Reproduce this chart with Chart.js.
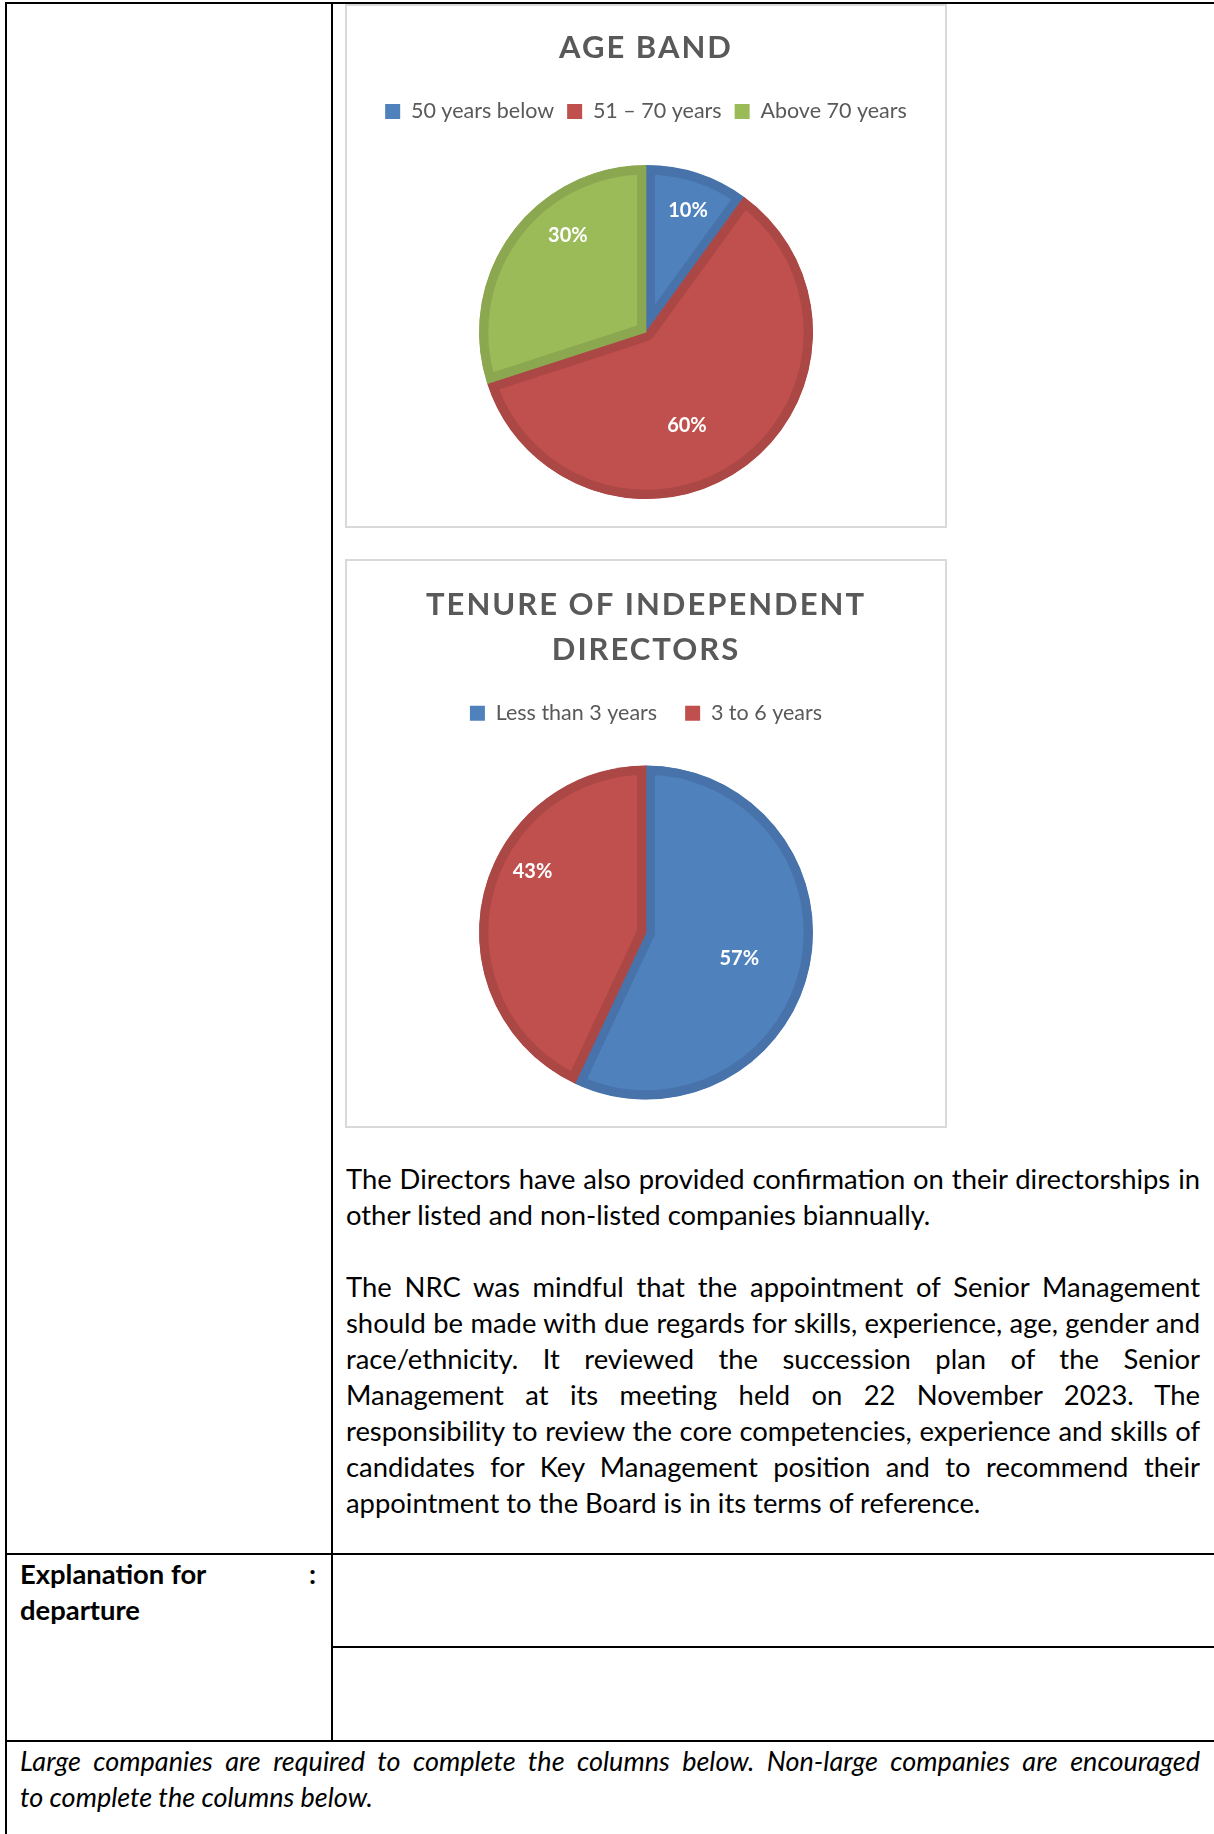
<!DOCTYPE html>
<html>
<head>
<meta charset="utf-8">
<script src="https://cdn.jsdelivr.net/npm/chart.js@4.4.0/dist/chart.umd.min.js"></script>
<style>
  html, body { margin: 0; padding: 0; background: #fff; }
  body { width: 1214px; height: 1834px; position: relative; overflow: hidden; font-family: Lato, sans-serif; color: #000; }
  .hl { position: absolute; height: 2px; background: #000; }
  .vl { position: absolute; width: 2px; background: #000; }
  .box { position: absolute; left: 345px; width: 602px; border: 2px solid #d9d9d9; box-sizing: border-box; background: #fff; overflow: hidden; }
  .box canvas { display: block; }
  .txt { position: absolute; font-size: 27.4px; line-height: 36px; }
  .txt span { display: block; }
  .txt .j { text-align: justify; text-align-last: justify; }
  .txt .e { height: 36px; }
</style>
</head>
<body>
  <!-- table lines -->
  <div class="hl" style="left:5px; top:2px; width:1209px;"></div>
  <div class="vl" style="left:5px; top:2px; height:1832px;"></div>
  <div class="vl" style="left:331px; top:2px; height:1740px;"></div>
  <div class="hl" style="left:5px; top:1553px; width:1209px;"></div>
  <div class="hl" style="left:331px; top:1646px; width:883px;"></div>
  <div class="hl" style="left:5px; top:1740px; width:1209px;"></div>

  <div class="box" style="top:4px; height:524px;"><canvas id="ageChart"></canvas></div>
  <div class="box" style="top:559px; height:569px;"><canvas id="tenureChart"></canvas></div>

  <div class="txt" style="left:346px; top:1160.5px; width:854px;">
    <span class="j">The Directors have also provided confirmation on their directorships in</span>
    <span>other listed and non-listed companies biannually.</span>
    <span class="e"></span>
    <span class="j">The NRC was mindful that the appointment of Senior Management</span>
    <span class="j">should be made with due regards for skills, experience, age, gender and</span>
    <span class="j">race/ethnicity. It reviewed the succession plan of the Senior</span>
    <span class="j">Management at its meeting held on 22 November 2023. The</span>
    <span class="j">responsibility to review the core competencies, experience and skills of</span>
    <span class="j">candidates for Key Management position and to recommend their</span>
    <span>appointment to the Board is in its terms of reference.</span>
  </div>

  <div class="txt" style="left:20px; top:1555.5px; font-weight:bold;">
    <span>Explanation for</span>
    <span>departure</span>
  </div>
  <div class="txt" style="left:309px; top:1555.5px; font-weight:bold;">:</div>

  <div class="txt" style="left:20px; top:1743px; width:1180px; font-style:italic; font-size:27px;">
    <span class="j">Large companies are required to complete the columns below. Non-large companies are encouraged</span>
    <span>to complete the columns below.</span>
  </div>

<script>
// chart data
const ageLabels = ['50 years below', '51 – 70 years', 'Above 70 years'];
const ageValues = [10, 60, 30];
const tenureLabels = ['Less than 3 years', '3 to 6 years'];
const tenureValues = [57, 43];

const fills = ['#4F81BD', '#C0504D', '#9BBB59'];
const edges = ['#4773AA', '#AB4744', '#8BA750'];
const grey = '#595959';

// white % labels inside the slices (spot = [share of slice angle, share of radius])
const sliceLabels = {
  id: 'sliceLabels',
  afterDatasetsDraw(chart, args, opts) {
    const ctx = chart.ctx;
    const meta = chart.getDatasetMeta(0);
    const vals = chart.data.datasets[0].data;
    ctx.save();
    ctx.font = 'bold 20px Lato';
    ctx.fillStyle = '#fff';
    ctx.textAlign = 'center';
    ctx.textBaseline = 'middle';
    meta.data.forEach((arc, i) => {
      const p = arc.getProps(['x', 'y', 'startAngle', 'endAngle', 'outerRadius'], true);
      const spot = opts.spots[i];
      const a = p.startAngle + (p.endAngle - p.startAngle) * spot[0];
      const r = p.outerRadius * spot[1];
      ctx.fillText(vals[i] + '%', p.x + Math.cos(a) * r, p.y + Math.sin(a) * r);
    });
    ctx.restore();
  }
};

// a little letter spacing on the title only, like the original
const spacedTitle = {
  id: 'spacedTitle',
  beforeDraw(chart) {
    const tb = chart.titleBlock;
    if (!tb || tb._spaced) return;
    const draw = tb.draw.bind(tb);
    tb.draw = function (area) {
      chart.ctx.save();
      chart.ctx.letterSpacing = '2px';
      draw(area);
      chart.ctx.restore();
    };
    tb._spaced = true;
  }
};

function legendItems(chart) {
  const items = Chart.overrides.doughnut.plugins.legend.labels.generateLabels(chart);
  items.forEach(it => { it.lineWidth = 0; it.strokeStyle = it.fillStyle; });
  return items;
}

function makePie(id, w, h, labels, values, title, titleLine, titlePad, legendPad, spots) {
  const canvas = document.getElementById(id);
  canvas.width = w;
  canvas.height = h;
  return new Chart(canvas, {
    type: 'pie',
    data: {
      labels: labels,
      datasets: [{
        data: values,
        backgroundColor: fills.slice(0, values.length),
        borderColor: edges.slice(0, values.length),
        borderWidth: 9,
        borderAlign: 'inner',
        hoverOffset: 0
      }]
    },
    options: {
      responsive: false,
      animation: false,
      events: [],
      radius: 167,
      layout: { padding: 0 },
      plugins: {
        title: {
          display: true,
          text: title,
          color: grey,
          font: { family: 'Lato', size: 31, weight: 'bold', lineHeight: titleLine },
          padding: titlePad
        },
        legend: {
          display: true,
          position: 'top',
          labels: {
            color: grey,
            font: { family: 'Lato', size: 21.5 },
            boxWidth: 15,
            boxHeight: 15,
            padding: legendPad,
            generateLabels: legendItems
          }
        },
        tooltip: { enabled: false },
        sliceLabels: { spots: spots }
      }
    },
    plugins: [sliceLabels, spacedTitle]
  });
}

makePie('ageChart', 598, 526, ageLabels, ageValues, 'AGE BAND', 1.2,
  { top: 23.4, bottom: 21.05 }, 13,
  [[0.53, 0.77], [0.557, 0.61], [0.64, 0.745]]);

makePie('tenureChart', 598, 570, tenureLabels, tenureValues,
  ['TENURE OF INDEPENDENT', 'DIRECTORS'], 1.468,
  { top: 20.75, bottom: 1.78 }, 28,
  [[0.515, 0.58], [0.60, 0.77]]);
</script>
</body>
</html>
